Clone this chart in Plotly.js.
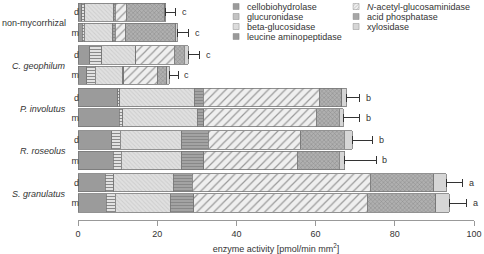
<!DOCTYPE html>
<html><head><meta charset="utf-8">
<script src="https://cdn.plot.ly/plotly-3.0.1.min.js"></script>
<style>html,body{margin:0;padding:0;background:#fff}</style>
</head><body>
<div id="chart" style="width:484px;height:254px"></div>
<script>
// ---- data ----
var groups = ["non-mycorrhizal", "<i>C. geophilum</i>", "<i>P. involutus</i>", "<i>R. roseolus</i>", "<i>S. granulatus</i>"];
var subLabels = ["d", "m"];
var enzymes = ["cellobiohydrolase", "glucuronidase", "beta-glucosidase", "leucine aminopeptidase",
               "<i>N</i>-acetyl-glucosaminidase", "acid phosphatase", "xylosidase"];
// rows: nm-d, nm-m, cg-d, cg-m, pi-d, pi-m, rr-d, rr-m, sg-d, sg-m
var cellobiohydrolase = [1.0, 1.1, 3.0, 2.2, 10.0, 10.4, 8.5, 8.9, 6.9, 7.1];
var glucuronidase     = [0.7, 0.5, 3.0, 2.1, 0.5, 0.9, 2.2, 2.0, 2.1, 2.3];
var betaGlucosidase   = [7.3, 7.2, 8.4, 7.0, 18.9, 18.8, 15.5, 15.3, 15.1, 13.9];
var leucineAmino      = [0.4, 0.6, 0.2, 0.3, 2.2, 1.6, 6.7, 5.5, 4.7, 5.9];
var nAcetylGlucos     = [2.8, 2.6, 9.7, 8.5, 29.3, 28.4, 23.4, 23.7, 45.0, 43.8];
var acidPhosphatase   = [9.7, 12.7, 2.5, 2.3, 5.7, 5.9, 10.9, 10.6, 16.0, 17.3];
var xylosidase        = [0.2, 0.3, 1.1, 0.7, 1.1, 1.0, 2.1, 1.3, 3.2, 3.5];
var errors            = [2.6, 3.0, 2.8, 2.2, 3.5, 4.2, 5.1, 8.0, 4.2, 4.4];
var letters           = ["c", "c", "c", "c", "b", "b", "b", "b", "a", "a"];

var series = [cellobiohydrolase, glucuronidase, betaGlucosidase, leucineAmino,
              nAcetylGlucos, acidPhosphatase, xylosidase];

// ---- styles ----
var styles = [
  {color: "#9b9b9b", pattern: {shape: ""}},
  {color: "#dcdcdc", pattern: {shape: "-", bgcolor: "#e2e2e2", fgcolor: "#8a8a8a", size: 3, solidity: 0.35}},
  {color: "#dddddd", pattern: {shape: "\\", bgcolor: "#e0e0e0", fgcolor: "#cdcdcd", size: 3, solidity: 0.3}},
  {color: "#a0a0a0", pattern: {shape: "-", bgcolor: "#a6a6a6", fgcolor: "#888888", size: 3, solidity: 0.4}},
  {color: "#eeeeee", pattern: {shape: "/", bgcolor: "#efefef", fgcolor: "#9a9a9a", size: 6, solidity: 0.2}},
  {color: "#a4a4a4", pattern: {shape: "x", bgcolor: "#b0b0b0", fgcolor: "#8a8a8a", size: 3, solidity: 0.3}},
  {color: "#d6d6d6", pattern: {shape: ""}}
];
var FS = 9;

// ---- positions (layout) ----
var groupStep = 2.1;
var ypos = [], tickText = [];
groups.forEach(function (g, gi) {
  subLabels.forEach(function (s, si) {
    ypos.push(gi * groupStep + si);
    tickText.push(s);
  });
});

var traces = series.map(function (vals, i) {
  var t = {
    type: "bar", orientation: "h", name: enzymes[i],
    x: vals, y: ypos, width: 0.9,
    marker: {color: styles[i].color, pattern: styles[i].pattern,
             line: {color: "#777777", width: 0.8}},
    legend: i < 4 ? "legend" : "legend2",
    hoverinfo: "skip"
  };
  if (i === series.length - 1) {
    t.error_x = {type: "data", symmetric: false, array: errors,
                 arrayminus: errors.map(function () { return 0; }),
                 color: "#333333", thickness: 1, width: 4};
  }
  return t;
});

var totals = ypos.map(function (_, r) {
  return series.reduce(function (s, arr) { return s + arr[r]; }, 0);
});

var annotations = [];
letters.forEach(function (l, r) {
  annotations.push({x: totals[r] + errors[r], y: ypos[r], xref: "x", yref: "y",
    text: l, showarrow: false, xanchor: "left", xshift: 4,
    font: {size: FS, color: "#333"}});
});
groups.forEach(function (g, gi) {
  annotations.push({x: -0.026, xref: "paper", y: gi * groupStep + 0.55, yref: "y",
    text: g, showarrow: false, xanchor: "right",
    font: {size: FS, color: "#333"}});
});

var layout = {
  width: 484, height: 254,
  margin: {l: 78, r: 10, t: 0, b: 34},
  barmode: "stack",
  paper_bgcolor: "#fff", plot_bgcolor: "#fff",
  font: {family: "Liberation Sans, Arial, sans-serif", size: FS, color: "#333"},
  xaxis: {range: [0, 100], tickvals: [0, 20, 40, 60, 80, 100], showgrid: false, zeroline: false,
          showline: true, linecolor: "#999", linewidth: 1, ticks: "outside", ticklen: 5,
          tickcolor: "#999", tickfont: {size: FS, color: "#333"},
          title: {text: "enzyme activity [pmol/min mm<sup>2</sup>]", font: {size: FS, color: "#333"}, standoff: 7},
          fixedrange: true},
  yaxis: {range: [10.237, -0.606], tickvals: ypos, ticktext: tickText, showgrid: false,
          zeroline: false, showline: false, ticks: "", tickfont: {size: FS, color: "#333"},
          ticklabelstandoff: -2, fixedrange: true},
  legend: {x: 0.326, xanchor: "left", y: 1, yanchor: "top", bgcolor: "rgba(0,0,0,0)",
           font: {size: FS, color: "#333"}, traceorder: "normal", tracegroupgap: 0},
  legend2: {x: 0.629, xanchor: "left", y: 1, yanchor: "top", bgcolor: "rgba(0,0,0,0)",
           font: {size: FS, color: "#333"}, traceorder: "normal", tracegroupgap: 0},
  annotations: annotations,
  showlegend: true
};

Plotly.newPlot("chart", traces, layout, {staticPlot: true, displayModeBar: false}).then(function (gd) {
  // compact the legend rows (reference uses ~10px row pitch and small swatches)
  ["legend", "legend2"].forEach(function (id) {
    var lg = gd.querySelector("g." + id);
    if (!lg) return;
    var m = /translate\(\s*([-\d.]+)[ ,]+([-\d.]+)\s*\)/.exec(lg.getAttribute("transform") || "");
    var ly = m ? parseFloat(m[2]) : 0;
    var items = lg.querySelectorAll("g.traces");
    items.forEach(function (it, i) {
      var t = /translate\(\s*([-\d.]+)[ ,]+([-\d.]+)\s*\)/.exec(it.getAttribute("transform") || "");
      var tx = t ? parseFloat(t[1]) : 0;
      it.setAttribute("transform", "translate(" + tx + "," + (6.5 + 10 * i - ly) + ")");
    });
    lg.querySelectorAll(".legendpoints path").forEach(function (p) {
      p.setAttribute("transform", "translate(29,0) scale(0.5)");
    });
  });
});
</script>
</body></html>
